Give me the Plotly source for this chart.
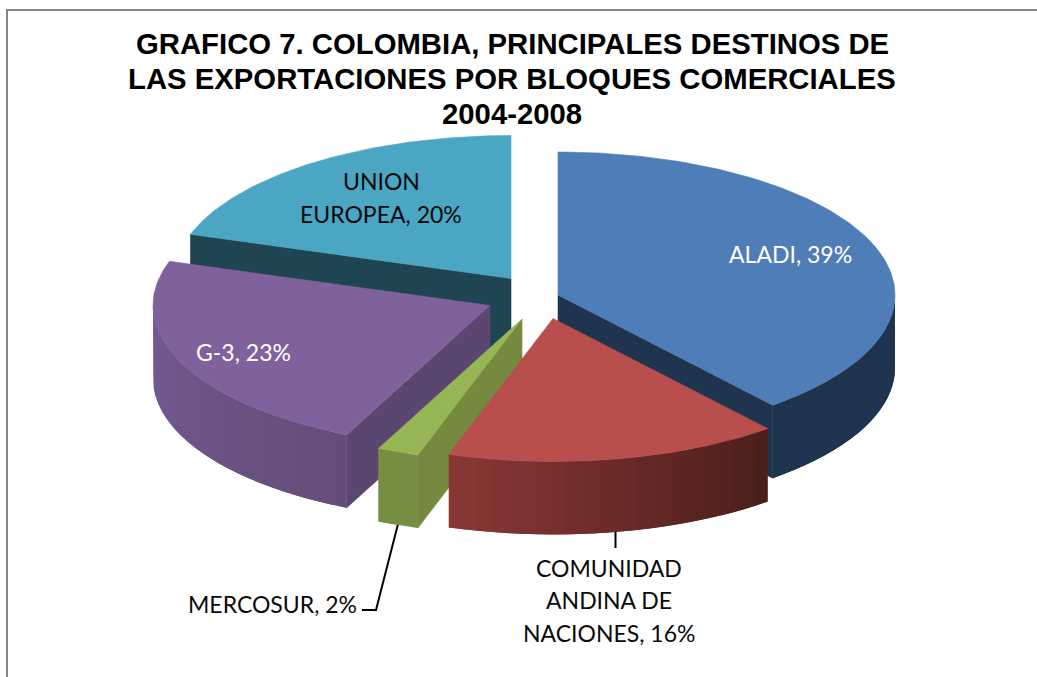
import math
import plotly.graph_objects as go

# ---- data ----
categories = ["ALADI", "COMUNIDAD ANDINA DE NACIONES", "MERCOSUR", "G-3", "UNION EUROPEA"]
shares = [39, 16, 2, 23, 20]
label_lines = [["ALADI, 39%"], ["COMUNIDAD", "ANDINA DE", "NACIONES, 16%"], ["MERCOSUR, 2%"], ["G-3, 23%"], ["UNION", "EUROPEA, 20%"]]
title_lines = ["GRAFICO 7. COLOMBIA, PRINCIPALES DESTINOS DE",
               "LAS EXPORTACIONES POR BLOQUES COMERCIALES",
               "2004-2008"]

# ---- styling / projection ----
RX, RY, DEPTH = 337, 143, 73
apex = [(558, 295), (553, 318.5), (522, 319), (490, 305.5), (511, 278.5)]
top_col = ["#4f7db8", "#b94f4c", "#96b555", "#7f619c", "#4aa6c3"]
face_col = ["#1f344f", None, "#75893f", "#5b4670", "#1f4552"]
face_edge = [1, 0, 0, 0, 0]
side_l = [(31, 52, 79), (138, 56, 54), (118, 142, 66), (116, 90, 146), (31, 69, 82)]
side_r = [(31, 52, 79), (74, 30, 28), (118, 142, 66), (100, 77, 122), (31, 69, 82)]
label_pos = [(790, 254), (609, 600), (272, 604), (243, 352), (381, 197.5)]
label_col = ["white", "#0a0a0a", "#0a0a0a", "white", "#0a0a0a"]
LABEL_STEP = 32.5
title_y = [43, 78, 113]
leaders = [([615.5, 615.5], [531, 548]), ([398, 376, 362], [524, 610, 610])]
draw_order = [4, 0, 3, 2, 1]


def rim(i, deg, drop=0):
    a = math.radians(deg)
    return apex[i][0] + RX * math.sin(a), apex[i][1] - RY * math.cos(a) + drop


def poly(xs, ys, color, lw=0.6):
    return go.Scatter(x=xs, y=ys, mode="lines", fill="toself", fillcolor=color,
                      line=dict(color=color, width=lw), hoverinfo="skip", showlegend=False)


bounds = [0]
for s in shares:
    bounds.append(bounds[-1] + s * 3.6)

fig = go.Figure()
for lx, ly in leaders:
    fig.add_trace(go.Scatter(x=lx, y=ly, mode="lines", line=dict(color="black", width=2),
                             hoverinfo="skip", showlegend=False))

for i in draw_order:
    a0, a1 = bounds[i], bounds[i + 1]
    ax, ay = apex[i]
    # radial face turned to the viewer
    if face_col[i]:
        ex, ey = rim(i, a1 if face_edge[i] else a0)
        fig.add_trace(poly([ax, ex, ex, ax, ax], [ay, ey, ey + DEPTH, ay + DEPTH, ay], face_col[i]))
    # outer wall, shaded strip by strip; each strip runs under the next one
    v0, v1 = max(a0, 90), min(a1, 270)
    if v1 > v0:
        n = max(2, int((v1 - v0) / 2.5))
        step = (v1 - v0) / n
        for k in range(n):
            d0 = v0 + step * k
            d1 = v0 + step * (k + 1) + (step if k < n - 1 else 0)
            xs, ys = [], []
            m = 6
            for q in range(m + 1):
                px, py = rim(i, d0 + (d1 - d0) * q / m)
                xs.append(px)
                ys.append(py)
            t = 1 - (k + 0.5) / n  # 1 at the right end of the wall
            c = tuple(round(side_l[i][j] + (side_r[i][j] - side_l[i][j]) * t) for j in range(3))
            fig.add_trace(poly(xs + xs[::-1] + xs[:1], ys + [y + DEPTH for y in ys[::-1]] + ys[:1],
                               "rgb(%d,%d,%d)" % c, lw=0))
    # top face
    n = max(4, int(a1 - a0))
    pts = [rim(i, a0 + (a1 - a0) * k / n) for k in range(n + 1)]
    fig.add_trace(poly([ax] + [p[0] for p in pts] + [ax], [ay] + [p[1] for p in pts] + [ay], top_col[i]))

for lines, (lx, ly), col in zip(label_lines, label_pos, label_col):
    for k, txt in enumerate(lines):
        fig.add_annotation(x=lx, y=ly + (k - (len(lines) - 1) / 2) * LABEL_STEP, text=txt, showarrow=False,
                           xanchor="center", yanchor="middle",
                           font=dict(family="Lato", size=23, color=col))

for txt, ty in zip(title_lines, title_y):
    fig.add_annotation(x=512, y=ty, text=txt, showarrow=False, xanchor="center", yanchor="middle",
                       font=dict(family="Liberation Sans", size=29.3, color="black", weight="bold"))

fig.update_layout(
    width=1037, height=677, margin=dict(l=0, r=0, t=0, b=0),
    paper_bgcolor="white", plot_bgcolor="white", showlegend=False,
    xaxis=dict(range=[0, 1037], visible=False, fixedrange=True),
    yaxis=dict(range=[677, 0], visible=False, fixedrange=True),
    shapes=[
        dict(type="line", x0=7, x1=7, y0=9, y1=677, line=dict(color="#868686", width=2)),
        dict(type="line", x0=6, x1=1037, y0=10, y1=10, line=dict(color="#868686", width=2)),
    ],
)
fig.write_html("out.html", post_script="document.body.style.margin='0';", config=dict(displayModeBar=False))
